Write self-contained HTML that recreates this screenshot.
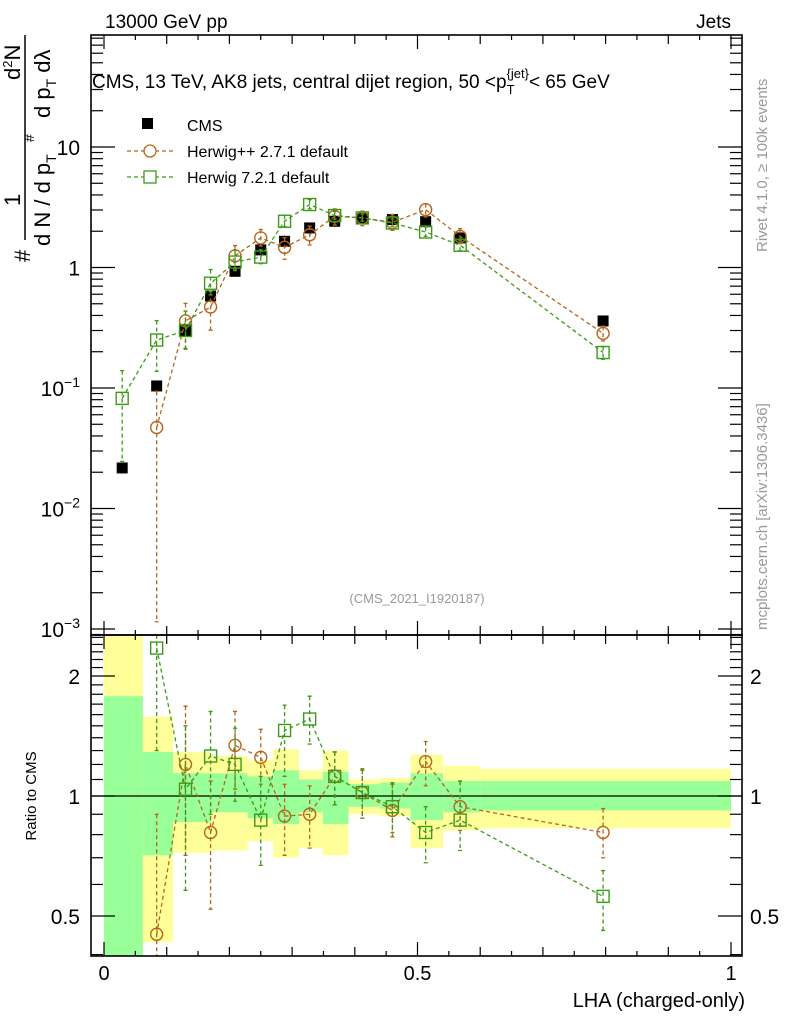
<!DOCTYPE html>
<html><head><meta charset="utf-8"><style>
html,body{margin:0;padding:0;background:#fff;width:786px;height:1024px;overflow:hidden}
svg{display:block;font-family:"Liberation Sans",sans-serif}
</style></head><body>
<svg id="chart" width="786" height="1024" viewBox="0 0 786 1024" xmlns="http://www.w3.org/2000/svg">
<defs>
<clipPath id="clipMain"><rect x="91" y="35" width="651" height="600"/></clipPath>
<clipPath id="clipRatio"><rect x="91" y="635" width="651" height="321"/></clipPath>
</defs>
<g id="bands" clip-path="url(#clipRatio)"></g>
<g id="ratioMarks" clip-path="url(#clipRatio)"></g>
<g id="mainMarks" clip-path="url(#clipMain)"></g>
<g id="axes"></g>

<text x="105" y="28" font-size="19">13000 GeV pp</text>
<text x="731" y="28" font-size="19" text-anchor="end">Jets</text>
<text x="92" y="88" font-size="19">CMS, 13 TeV, AK8 jets, central dijet region, 50 &lt;p<tspan font-size="13" dy="6">T</tspan><tspan font-size="13" dy="-16" dx="-8">{jet}</tspan><tspan dy="10">&lt; 65 GeV</tspan></text>
<text x="417" y="603" font-size="13" fill="#999" text-anchor="middle">(CMS_2021_I1920187)</text>

<g>
  <g>
    <rect x="142" y="118" width="11" height="11" fill="#000"/>
    <text x="187" y="131" font-size="16">CMS</text>
  </g>
  <g>
    <line x1="127" y1="151" x2="174" y2="151" stroke="#b5651d" stroke-width="1.3" stroke-dasharray="4,3"/>
    <circle cx="150" cy="151" r="6" fill="#fff" stroke="#b5651d" stroke-width="1.3"/>
    <text x="187" y="157" font-size="16">Herwig++ 2.7.1 default</text>
  </g>
  <g>
    <line x1="127" y1="177" x2="174" y2="177" stroke="#3d9a18" stroke-width="1.3" stroke-dasharray="4,3"/>
    <rect x="144" y="171" width="12" height="12" fill="#fff" stroke="#3d9a18" stroke-width="1.3"/>
    <text x="187" y="183" font-size="16">Herwig 7.2.1 default</text>
  </g>
</g>

<g transform="rotate(-90)" font-size="22">
  <line x1="-240" y1="25" x2="-35" y2="25" stroke="#000" stroke-width="1.5"/>
  <text x="-206" y="20">1</text>
  <text x="-80" y="20">d<tspan font-size="13" dy="-8">2</tspan><tspan dy="8">N</tspan></text>
  <text x="-246" y="50">d N / d p<tspan font-size="14" dy="6">T</tspan></text>
  <text x="-142" y="34" font-size="14">#</text>
  <text x="-118" y="50">d p<tspan font-size="14" dy="6">T</tspan><tspan dy="-6"> dλ</tspan></text>
  <text x="-262" y="30">#</text>
</g>
<text transform="translate(36,796) rotate(-90)" font-size="15" text-anchor="middle">Ratio to CMS</text>
<text x="745" y="1007" font-size="20" text-anchor="end">LHA (charged-only)</text>
<text transform="translate(767,252) rotate(-90)" font-size="15" fill="#999">Rivet 4.1.0, ≥ 100k events</text>
<text transform="translate(767,630) rotate(-90)" font-size="15" fill="#999">mcplots.cern.ch [arXiv:1306.3436]</text>
</svg>
<script>
// ---- data ----
const xCenters = [0.029,0.084,0.13,0.17,0.209,0.25,0.288,0.328,0.368,0.412,0.46,0.513,0.568,0.796];
const cmsValues = [0.0217,0.104,0.30,0.58,0.93,1.40,1.65,2.13,2.42,2.55,2.50,2.40,1.76,0.36];
const hppValues = [null,0.047,0.36,0.47,1.25,1.76,1.47,1.87,2.66,2.58,2.37,3.02,1.81,0.284];
const h7Values  = [0.082,0.25,0.30,0.74,1.11,1.22,2.42,3.33,2.70,2.58,2.34,1.97,1.53,0.197];
const hppRatio   = [null,0.45,1.20,0.81,1.34,1.25,0.89,0.90,1.12,1.02,0.92,1.22,0.94,0.81];
const hppRatioHi = [null,0.90,1.68,1.09,1.63,1.47,1.07,1.06,1.29,1.16,1.07,1.37,1.09,0.93];
const hppRatioLo = [null,0.011,0.71,0.52,1.04,1.07,0.71,0.74,0.95,0.88,0.79,1.06,0.82,0.70];
const h7Ratio    = [null,2.35,1.04,1.26,1.20,0.87,1.46,1.56,1.12,1.02,0.94,0.81,0.87,0.56];
const h7RatioHi  = [null,3.00,1.50,1.63,1.48,1.12,1.69,1.78,1.29,1.17,1.08,0.94,1.09,0.65];
const h7RatioLo  = [null,1.30,0.58,0.90,0.97,0.67,1.12,1.35,0.95,0.88,0.81,0.68,0.73,0.46];
const h7MainHiR  = [1.7,1.45,1.45,1.3,1.25,1.15,1.12,1.1,1.08,1.08,1.08,1.1,1.1,1.12];
const h7MainLoR  = [0.3,0.55,0.7,0.8,0.85,0.88,0.9,0.92,0.93,0.94,0.94,0.92,0.9,0.88];
const bandEdges  = [0,0.062,0.11,0.171,0.229,0.27,0.311,0.349,0.39,0.44,0.489,0.541,0.6,1.0];
const bandYelHi  = [3.0,1.58,1.29,1.26,1.23,1.31,1.16,1.30,1.10,1.11,1.27,1.19,1.17];
const bandGrnHi  = [1.78,1.29,1.14,1.14,1.12,1.16,1.10,1.15,1.07,1.08,1.14,1.09,1.09];
const bandGrnLo  = [0.3,0.71,0.86,0.91,0.88,0.85,0.91,0.85,0.94,0.93,0.87,0.91,0.92];
const bandYelLo  = [0.3,0.43,0.72,0.73,0.77,0.70,0.74,0.71,0.90,0.89,0.74,0.82,0.83];
const mainTickExp = [1,0,-1,-2,-3];
const ratioTicks = ["2","1","0.5"];
const ratioTickVals = [2,1,0.5];
const xTickLabels = ["0","0.5","1"];
const xTickVals = [0,0.5,1];

// ---- axis functions ----
const NS="http://www.w3.org/2000/svg";
const X=v=>104+v*627;
const YM=v=>147+(1-Math.log10(v))*120.5;
const YR=r=>796-Math.log2(r)*120;
function mk(tag,attrs,parent){const e=document.createElementNS(NS,tag);for(const k in attrs)e.setAttribute(k,attrs[k]);parent.appendChild(e);return e;}
const gBands=document.getElementById('bands'),gR=document.getElementById('ratioMarks'),gM=document.getElementById('mainMarks'),gA=document.getElementById('axes');

for(let i=0;i<bandYelHi.length;i++){
  const x0=X(bandEdges[i]),w=X(bandEdges[i+1])-x0;
  const top1=Math.max(YR(bandYelHi[i]),635),bot1=Math.min(YR(bandYelLo[i]),956);
  const y=mk('rect',{x:x0,y:top1,width:w,height:bot1-top1,fill:'#ffff99'},gBands);
  
  
  const top2=Math.max(YR(bandGrnHi[i]),635),bot2=Math.min(YR(bandGrnLo[i]),956);
  const g=mk('rect',{x:x0,y:top2,width:w,height:bot2-top2,fill:'#99ff99'},gBands);
  
  
}
const unity=mk('line',{x1:91,x2:742,y1:YR(1),y2:YR(1),stroke:'#000','stroke-width':1.3},gBands);



function series(parent,vals,his,los,yf,color,shape,name,withLine,yTop,yBot){
  if(withLine){
    let d='';
    vals.forEach((v,i)=>{if(v==null)return;d+=(d?'L':'M')+X(xCenters[i])+','+yf(v);});
    const p=mk('path',{d:d,fill:'none',stroke:color,'stroke-width':1.3,'stroke-dasharray':'4,3'},parent);
    
    
  }
  vals.forEach((v,i)=>{
    if(v==null)return;
    const cx=X(xCenters[i]),cy=yf(v);
    if(his){
      const yh=Math.max(yf(his[i]),yTop),yl=Math.min(yf(los[i]),yBot);
      const eb=mk('path',{d:`M${cx},${yh}V${yl}M${cx-2},${yh}H${cx+2}M${cx-2},${yl}H${cx+2}`,stroke:color,'stroke-width':1.3,'stroke-dasharray':'4,3',fill:'none'},parent);
      
      
    }
    let m;
    if(shape==='circle')m=mk('circle',{cx:cx,cy:cy,r:6,fill:'none',stroke:color,'stroke-width':1.4},parent);
    else if(shape==='square')m=mk('rect',{x:cx-6,y:cy-6,width:12,height:12,fill:'none',stroke:color,'stroke-width':1.4},parent);
    else m=mk('rect',{x:cx-5.5,y:cy-5.5,width:11,height:11,fill:'#000'},parent);
    
    
  });
}
const hppHi=hppValues.map((v,i)=>v==null?null:v*hppRatioHi[i]/hppRatio[i]);
const hppLo=hppValues.map((v,i)=>v==null?null:v*hppRatioLo[i]/hppRatio[i]);
const h7Hi=h7Values.map((v,i)=>v*h7MainHiR[i]);
const h7Lo=h7Values.map((v,i)=>v*h7MainLoR[i]);
series(gM,cmsValues,null,null,YM,'#000','filled','cms-main',false,35,635);
series(gM,hppValues,hppHi,hppLo,YM,'#b5651d','circle','herwigpp-main',true,35,635);
series(gM,h7Values,h7Hi,h7Lo,YM,'#3d9a18','square','herwig7-main',true,35,635);
series(gR,hppRatio,hppRatioHi,hppRatioLo,YR,'#b5651d','circle','herwigpp-ratio',true,635,956);
series(gR,h7Ratio,h7RatioHi,h7RatioLo,YR,'#3d9a18','square','herwig7-ratio',true,635,956);

[[35,635],[635,956]].forEach(([t,b])=>{mk('rect',{x:91,y:t,width:651,height:b-t,fill:'none',stroke:'#000','stroke-width':1.6},gA);});
for(let k=0;k<=20;k++){
  const v=k*0.05,x=X(v),L=(k%10===0)?14:(k%2===0)?9:5;
  [[35,1],[635,-1],[635,1],[956,-1]].forEach(([y,s])=>{mk('line',{x1:x,x2:x,y1:y,y2:y+s*L,stroke:'#000','stroke-width':1.2},gA);});
}
xTickVals.forEach((v,i)=>{const t=mk('text',{x:X(v),y:980,'font-size':20,'text-anchor':'middle'},gA);t.textContent=xTickLabels[i];
  
  });
for(let e=-4;e<=2;e++){for(let m=1;m<10;m++){const v=m*Math.pow(10,e),y=YM(v);if(y<35||y>635)continue;const L=m===1?24:12;
  mk('line',{x1:91,x2:91+L,y1:y,y2:y,stroke:'#000','stroke-width':1.2},gA);mk('line',{x1:742,x2:742-L,y1:y,y2:y,stroke:'#000','stroke-width':1.2},gA);}}
mainTickExp.forEach(e=>{const y=YM(Math.pow(10,e))+8;const t=mk('text',{x:80,y:y,'font-size':21,'text-anchor':'end'},gA);
  
  
  if(e===0)t.textContent='1';else if(e===1)t.textContent='10';else{t.textContent='10';const s=mk('tspan',{dy:-9,'font-size':14},t);s.textContent='−'+(-e);}});
[0.4,0.5,0.6,0.7,0.8,0.9,1,1.1,1.2,1.3,1.4,1.5,1.6,1.7,1.8,1.9,2,2.1,2.2,2.3,2.4,2.5].forEach(r=>{const y=YR(r);if(y<635||y>956)return;const L=(r===0.5||r===1||r===2)?24:12;
  mk('line',{x1:91,x2:91+L,y1:y,y2:y,stroke:'#000','stroke-width':1.2},gA);mk('line',{x1:742,x2:742-L,y1:y,y2:y,stroke:'#000','stroke-width':1.2},gA);});
ratioTickVals.forEach((r,i)=>{
  const t=mk('text',{x:80,y:YR(r)+8,'font-size':21,'text-anchor':'end'},gA);t.textContent=ratioTicks[i];
  
  
  const t2=mk('text',{x:750,y:YR(r)+8,'font-size':21},gA);t2.textContent=ratioTicks[i];
  
  
});
</script>
</body></html>
